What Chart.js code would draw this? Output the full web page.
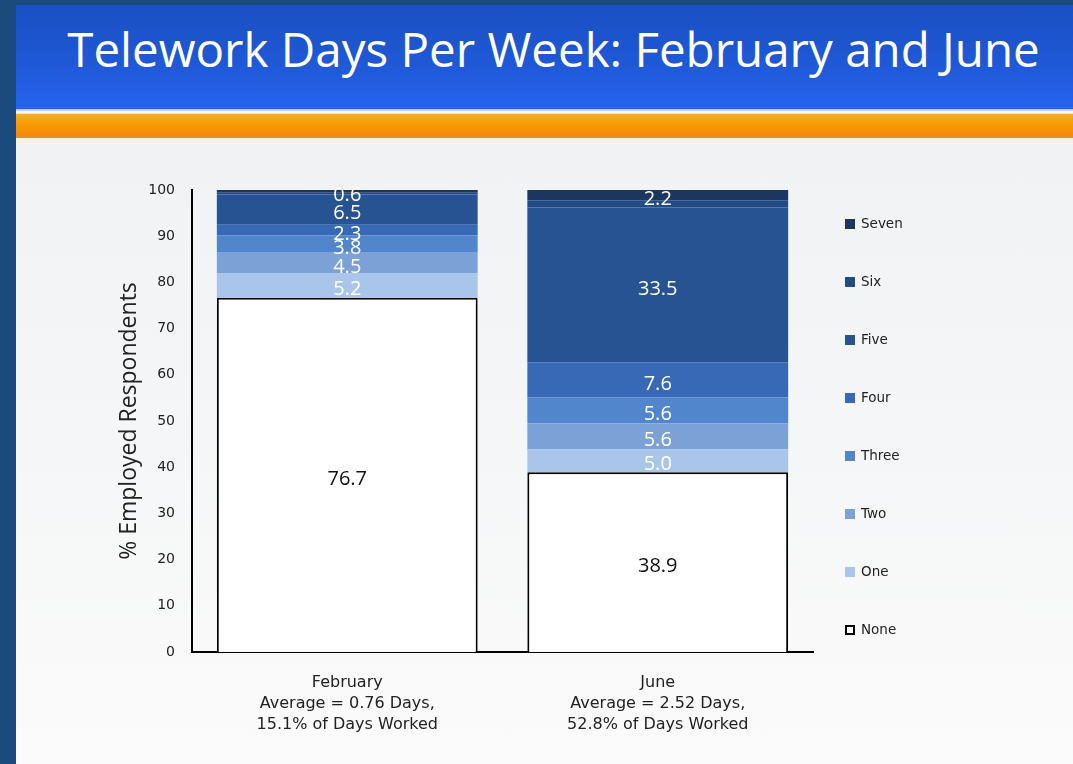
<!DOCTYPE html>
<html>
<head>
<meta charset="utf-8">
<title>Telework Days Per Week</title>
<script src="https://cdn.jsdelivr.net/npm/chart.js@4.4.0/dist/chart.umd.min.js"></script>
<style>
  html, body { margin: 0; padding: 0; }
  body { width: 1073px; height: 764px; position: relative; overflow: hidden; background: #1b4a7c; font-family: "Open Sans", sans-serif; }
  #banner { position: absolute; left: 16px; top: 5px; width: 1057px; height: 104px;
    background: linear-gradient(#1a50c2, #1f58d6 55%, #2664ee); }
  #title { position: absolute; left: 9px; width: 1057px; top: 14px; text-align: center; color: #fff;
    font-size: 47.5px; line-height: 60px; white-space: nowrap; }
  #rule { position: absolute; left: 16px; top: 109px; width: 1057px; height: 5px;
    background: linear-gradient(#9fb6e6, #ffffff 60%, #e8dcc0); }
  #orange { position: absolute; left: 16px; top: 114px; width: 1057px; height: 24px;
    background: linear-gradient(#f2ac2c, #fa9a02 45%, #f58a06 85%, #e08a40); }
  #content { position: absolute; left: 16px; top: 138px; width: 1057px; height: 626px;
    background: linear-gradient(#f7efe2 0px, #f1f2f4 5px, #f5f6f7 300px, #fbfbfb 626px); }
  #wrap { position: absolute; left: 16px; top: 142px; width: 1057px; height: 622px; }
  #legend { position: absolute; left: 845px; top: 0; }
  .item { position: absolute; left: 0; white-space: nowrap; font-family: "DejaVu Sans", sans-serif;
    font-size: 13.5px; color: #222; line-height: 16px; }
  .box { display: inline-block; width: 10px; height: 10px; vertical-align: -1px; margin-right: 6px; box-sizing: border-box; }
</style>
</head>
<body>
<div id="banner"><div id="title">Telework Days Per Week: February and June</div></div>
<div id="rule"></div>
<div id="orange"></div>
<div id="content"></div>
<div id="wrap"><canvas id="chart" width="1057" height="622"></canvas></div>
<div id="legend"></div>
<script>
// categories (x-axis tick lines)
const months = ['February', 'June'];
const averages = ['Average = 0.76 Days,', 'Average = 2.52 Days,'];
const shares = ['15.1% of Days Worked', '52.8% of Days Worked'];

// series, % of employed respondents
const seriesNames = ['None', 'One', 'Two', 'Three', 'Four', 'Five', 'Six', 'Seven'];
const none = [76.7, 38.9];
const one = [5.2, 5.0];
const two = [4.5, 5.6];
const three = [3.8, 5.6];
const four = [2.3, 7.6];
const five = [6.5, 33.5];
const six = [0.4, 1.6];
const seven = [0.6, 2.2];
const seriesValues = [none, one, two, three, four, five, six, seven];

// series without a printed value
const unlabeled = ['Six'];

const fills = ['#ffffff', '#a9c6ea', '#7ba1d7', '#5286cc', '#3769b6', '#275393', '#224a84', '#1b3760'];

const datasets = seriesNames.map((name, i) => ({
    label: name,
    data: seriesValues[i],
    backgroundColor: fills[i],
    borderColor: i === 0 ? '#000000' : fills[i],
    borderWidth: i === 0 ? 2 : 0,
    borderSkipped: 'bottom',
    categoryPercentage: 0.84,
    barPercentage: 1
}));

// Draws the value in the middle of each stacked segment
const segmentLabels = {
    id: 'segmentLabels',
    afterDatasetsDraw(chart) {
        const ctx = chart.ctx;
        ctx.save();
        ctx.font = '20px "Open Sans"';
        ctx.textAlign = 'center';
        ctx.textBaseline = 'middle';
        chart.data.datasets.forEach((ds, i) => {
            if (unlabeled.includes(ds.label)) return;
            const meta = chart.getDatasetMeta(i);
            meta.data.forEach((bar, j) => {
                const mid = (bar.y + bar.base) / 2 + 4;
                ctx.fillStyle = i === 0 ? '#111111' : '#ffffff';
                ctx.fillText(ds.data[j].toFixed(1), bar.x, mid);
            });
        });
        ctx.restore();
    }
};

const chart = new Chart(document.getElementById('chart'), {
    type: 'bar',
    data: {
        labels: months.map((m, i) => [m, averages[i], shares[i]]),
        datasets: datasets
    },
    options: {
        responsive: false,
        animation: false,
        layout: { padding: { left: 92, top: 48, right: 260, bottom: 22 } },
        plugins: {
            legend: { display: false },
            tooltip: { enabled: false }
        },
        scales: {
            x: {
                stacked: true,
                grid: { display: false, drawTicks: false },
                border: { display: true, color: '#000000', width: 2 },
                ticks: {
                    padding: 20,
                    color: '#222222',
                    font: { family: 'DejaVu Sans', size: 16, lineHeight: 1.32 }
                },
                afterFit(scale) { scale.height = 90; }
            },
            y: {
                stacked: true,
                min: 0,
                max: 100,
                grid: { display: false, drawTicks: false },
                border: { display: true, color: '#000000', width: 2 },
                ticks: {
                    stepSize: 10,
                    padding: 17,
                    color: '#222222',
                    font: { family: 'DejaVu Sans', size: 14 }
                },
                title: {
                    display: true,
                    text: '% Employed Respondents',
                    color: '#222222',
                    padding: { top: 8 },
                    font: { family: 'Open Sans', size: 23 }
                },
                afterFit(scale) { scale.width = 84; }
            }
        }
    },
    plugins: [segmentLabels]
});

// legend, top to bottom: Seven ... None
const legend = document.getElementById('legend');
seriesNames.slice().reverse().forEach((name, k) => {
    const i = seriesNames.length - 1 - k;
    const item = document.createElement('div');
    item.className = 'item';
    item.style.top = (215 + k * 58) + 'px';
    const box = document.createElement('span');
    box.className = 'box';
    box.style.background = fills[i];
    if (i === 0) box.style.border = '2px solid #000';
    item.appendChild(box);
    item.appendChild(document.createTextNode(name));
    legend.appendChild(item);
});
</script>
</body>
</html>
